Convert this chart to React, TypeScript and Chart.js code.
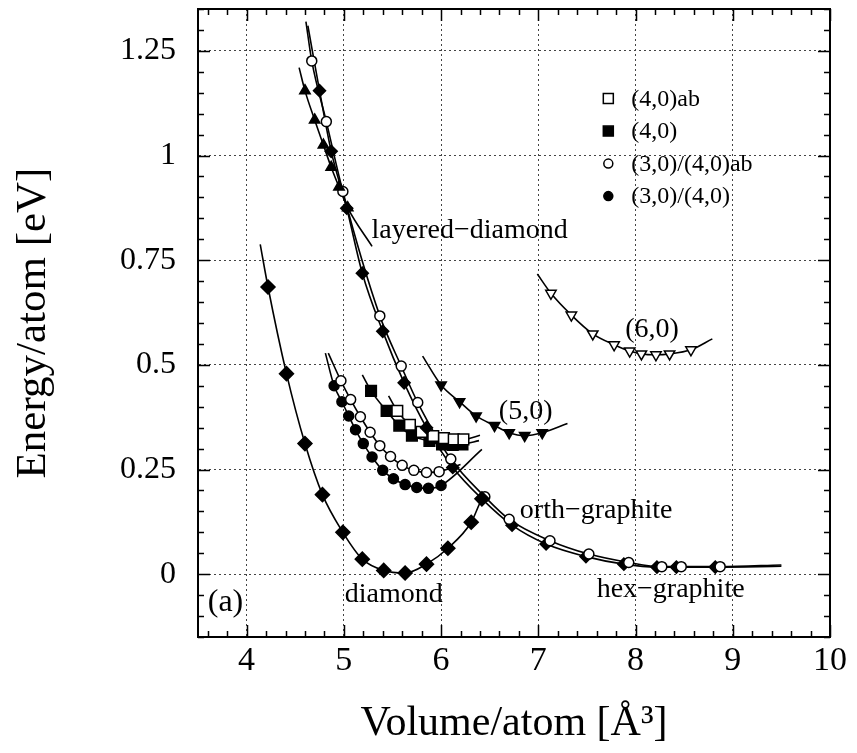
import React, { useEffect, useRef } from 'react';
import { Chart, registerables } from 'chart.js';
Chart.register(...registerables);

const FONT = '"Liberation Serif", "Times New Roman", serif';

// Axes
const X_MIN = 3.5, X_MAX = 10, Y_MIN = -0.15, Y_MAX = 1.35;
const xTicks = [4, 5, 6, 7, 8, 9, 10];
const yTicks = [0, 0.25, 0.5, 0.75, 1, 1.25];

// diamond (filled diamonds)
const diamondX = [4.22, 4.41, 4.60, 4.78, 4.99, 5.19, 5.41, 5.63, 5.85, 6.07, 6.31, 6.42];
const diamondY = [0.686, 0.479, 0.312, 0.190, 0.100, 0.036, 0.009, 0.003, 0.024, 0.062, 0.124, 0.180];
const diamondStart = [4.14, 0.788];
const diamondEnd = [6.47, 0.195];

// layered-diamond (filled up triangles)
const layeredX = [4.60, 4.70, 4.79, 4.87, 4.95, 5.04];
const layeredY = [1.155, 1.085, 1.025, 0.972, 0.925, 0.875];
const layeredStart = [4.54, 1.21];
const layeredEnd = [5.29, 0.783];

// graphite branch, open circles
const graphOpenX = [4.67, 4.82, 4.99, 5.37, 5.59, 5.76, 6.10, 6.45, 6.70, 7.12, 7.52, 7.93, 8.27, 8.47, 8.87];
const graphOpenY = [1.226, 1.081, 0.914, 0.617, 0.497, 0.410, 0.275, 0.185, 0.131, 0.080, 0.048, 0.028, 0.018, 0.018, 0.018];
const graphOpenStart = [4.61, 1.32];
const graphOpenEnd = [9.5, 0.022];

// graphite branch, filled
const graphFillX = [4.75, 4.87, 5.03, 5.19, 5.40, 5.62, 5.85, 6.12, 6.42, 6.73, 7.08, 7.49, 7.88, 8.22, 8.42, 8.82];
const graphFillY = [1.155, 1.010, 0.874, 0.719, 0.580, 0.457, 0.350, 0.255, 0.180, 0.117, 0.072, 0.042, 0.024, 0.017, 0.017, 0.017];
const graphFillStart = [4.63, 1.31];
const graphFillEnd = [9.5, 0.019];

// (4,0)ab open squares
const sqOpenX = [5.55, 5.68, 5.80, 5.92, 6.03, 6.13, 6.23];
const sqOpenY = [0.390, 0.357, 0.340, 0.330, 0.325, 0.322, 0.322];
const sqOpenStart = [5.46, 0.426];
const sqOpenEnd = [6.40, 0.332];

// (4,0) filled squares
const sqFillX = [5.28, 5.44, 5.57, 5.70, 5.88, 6.01, 6.12, 6.22];
const sqFillY = [0.438, 0.390, 0.355, 0.331, 0.318, 0.310, 0.309, 0.310];
const sqFillStart = [5.19, 0.476];
const sqFillEnd = [6.39, 0.319];

// (3,0)/(4,0)ab open circles
const ciOpenX = [4.97, 5.07, 5.17, 5.27, 5.37, 5.48, 5.60, 5.72, 5.85, 5.98];
const ciOpenY = [0.462, 0.417, 0.376, 0.339, 0.307, 0.281, 0.260, 0.248, 0.243, 0.245];
const ciOpenStart = [4.84, 0.528];
const ciOpenEnd = [6.20, 0.262];

// (3,0)/(4,0) filled circles
const ciFillX = [4.90, 4.98, 5.05, 5.12, 5.20, 5.29, 5.40, 5.51, 5.63, 5.75, 5.87, 6.00];
const ciFillY = [0.450, 0.412, 0.378, 0.345, 0.312, 0.280, 0.248, 0.228, 0.214, 0.207, 0.205, 0.212];
const ciFillStart = [4.81, 0.528];
const ciFillEnd = [6.42, 0.298];

// (5,0) filled down triangles
const t5X = [6.00, 6.19, 6.36, 6.55, 6.70, 6.86, 7.04];
const t5Y = [0.452, 0.412, 0.378, 0.355, 0.338, 0.331, 0.338];
const t5Start = [5.81, 0.521];
const t5End = [7.30, 0.360];

// (6,0) open down triangles
const t6X = [7.13, 7.34, 7.56, 7.78, 7.94, 8.06, 8.21, 8.35, 8.57];
const t6Y = [0.671, 0.619, 0.574, 0.548, 0.533, 0.526, 0.524, 0.526, 0.536];
const t6Start = [6.99, 0.717];
const t6End = [8.79, 0.562];

// Text labels (data coordinates of anchor)
const labelTexts = ['layered−diamond', '(6,0)', '(5,0)', 'orth−graphite', 'hex−graphite', 'diamond', '(a)'];
const labelX = [5.285, 8.17, 6.87, 6.81, 7.60, 5.01, 3.60];
const labelY = [0.821, 0.583, 0.388, 0.152, -0.038, -0.05, -0.069];
const labelAlign = ['left', 'center', 'center', 'left', 'left', 'left', 'left'];

const legendLabels = ['(4,0)ab', '(4,0)', '(3,0)/(4,0)ab', '(3,0)/(4,0)'];

const zip = (xs: number[], ys: number[]) => xs.map((x, i) => ({ x, y: ys[i] }));
const fit = (s: number[], xs: number[], ys: number[], e: number[]) => [
  { x: s[0], y: s[1] }, ...zip(xs, ys), { x: e[0], y: e[1] },
];

function lineDs(data: any[]) {
  return {
    label: '', data, showLine: true, pointRadius: 0, pointHoverRadius: 0,
    borderColor: '#000', borderWidth: 1.6, cubicInterpolationMode: 'monotone',
    fill: false, order: 2,
  };
}
function markerDs(label: string, data: any[], style: string, radius: number, filled: boolean, rotation = 0) {
  return {
    label, data, showLine: false, pointStyle: style, pointRadius: radius, pointHoverRadius: radius,
    pointRotation: rotation, pointBackgroundColor: filled ? '#000' : '#fff',
    pointBorderColor: '#000', pointBorderWidth: 1.5, order: 1,
  };
}

const overlay = {
  id: 'overlay',
  afterDraw(chart: any) {
    const { ctx, chartArea: a, scales } = chart;
    const xs = scales.x, ys = scales.y;
    ctx.save();
    ctx.strokeStyle = '#000';
    ctx.lineWidth = 1.5;
    ctx.beginPath();
    for (let k = Math.ceil(X_MIN / 0.2); k <= Math.floor(X_MAX / 0.2 + 1e-9); k++) {
      const v = k * 0.2;
      const major = Math.abs(v - Math.round(v)) < 1e-6;
      const len = major ? 12 : 6;
      const px = Math.round(xs.getPixelForValue(v)) + 0.5;
      ctx.moveTo(px, a.bottom); ctx.lineTo(px, a.bottom - len);
      ctx.moveTo(px, a.top); ctx.lineTo(px, a.top + len);
    }
    for (let k = Math.ceil(Y_MIN / 0.05 - 1e-9); k <= Math.floor(Y_MAX / 0.05 + 1e-9); k++) {
      const v = k * 0.05;
      const major = k % 5 === 0;
      const len = major ? 12 : 6;
      const py = Math.round(ys.getPixelForValue(v)) + 0.5;
      ctx.moveTo(a.left, py); ctx.lineTo(a.left + len, py);
      ctx.moveTo(a.right, py); ctx.lineTo(a.right - len, py);
    }
    ctx.stroke();

    // annotations
    ctx.fillStyle = '#000';
    ctx.textBaseline = 'middle';
    labelTexts.forEach((t, i) => {
      ctx.font = (t === '(a)' ? '32px ' : '28px ') + FONT;
      ctx.textAlign = labelAlign[i];
      ctx.fillText(t, xs.getPixelForValue(labelX[i]), ys.getPixelForValue(labelY[i]));
    });

    // legend
    const lx = xs.getPixelForValue(7.72);
    const ly0 = ys.getPixelForValue(1.136);
    ctx.font = '24px ' + FONT;
    ctx.textAlign = 'left';
    legendLabels.forEach((t, i) => {
      const y = ly0 + i * 32.5;
      ctx.lineWidth = 1.5;
      ctx.beginPath();
      if (i < 2) ctx.rect(lx - 5, y - 5, 10, 10);
      else ctx.arc(lx, y, 4.5, 0, Math.PI * 2);
      if (i % 2 === 1) { ctx.fillStyle = '#000'; ctx.fill(); }
      else { ctx.fillStyle = '#fff'; ctx.fill(); }
      ctx.stroke();
      ctx.fillStyle = '#000';
      ctx.fillText(t, lx + 23, y + 1);
    });
    ctx.restore();
  },
};

export default function App() {
  const ref = useRef<HTMLCanvasElement>(null);
  useEffect(() => {
    document.body.style.margin = '0';
    const datasets: any[] = [
      lineDs(fit(diamondStart, diamondX, diamondY, diamondEnd)),
      lineDs(fit(layeredStart, layeredX, layeredY, layeredEnd)),
      lineDs(fit(graphOpenStart, graphOpenX, graphOpenY, graphOpenEnd)),
      lineDs(fit(graphFillStart, graphFillX, graphFillY, graphFillEnd)),
      lineDs(fit(sqOpenStart, sqOpenX, sqOpenY, sqOpenEnd)),
      lineDs(fit(sqFillStart, sqFillX, sqFillY, sqFillEnd)),
      lineDs(fit(ciOpenStart, ciOpenX, ciOpenY, ciOpenEnd)),
      lineDs(fit(ciFillStart, ciFillX, ciFillY, ciFillEnd)),
      lineDs(fit(t5Start, t5X, t5Y, t5End)),
      lineDs(fit(t6Start, t6X, t6Y, t6End)),
      markerDs('diamond', zip(diamondX, diamondY), 'rectRot', 7, true),
      markerDs('layered-diamond', zip(layeredX, layeredY), 'triangle', 6, true),
      markerDs('graphite open', zip(graphOpenX, graphOpenY), 'circle', 5, false),
      markerDs('graphite filled', zip(graphFillX, graphFillY), 'rectRot', 6, true),
      markerDs('(4,0)ab', zip(sqOpenX, sqOpenY), 'rect', 7.5, false),
      markerDs('(4,0)', zip(sqFillX, sqFillY), 'rect', 7.5, true),
      markerDs('(3,0)/(4,0)ab', zip(ciOpenX, ciOpenY), 'circle', 5, false),
      markerDs('(3,0)/(4,0)', zip(ciFillX, ciFillY), 'circle', 5, true),
      markerDs('(5,0)', zip(t5X, t5Y), 'triangle', 6, true, 180),
      markerDs('(6,0)', zip(t6X, t6Y), 'triangle', 6, false, 180),
    ];
    const gridCommon = { color: '#444', lineWidth: 1, drawTicks: false };
    const borderCommon = { display: true, color: '#000', width: 2, dash: [2, 3] };
    const noPadV = (s: any) => { s.paddingTop = 0; s.paddingBottom = 0; };
    const noPadH = (s: any) => { s.paddingLeft = 0; s.paddingRight = 0; };
    const chart = new Chart(ref.current as HTMLCanvasElement, {
      type: 'scatter',
      data: { datasets },
      options: {
        animation: false,
        responsive: false,
        devicePixelRatio: 1,
        layout: { padding: 0 },
        plugins: { legend: { display: false }, tooltip: { enabled: false } },
        events: [],
        scales: {
          x: {
            type: 'linear', position: 'bottom', min: X_MIN, max: X_MAX,
            afterBuildTicks: (s: any) => { s.ticks = xTicks.map((v) => ({ value: v })); },
            afterFit: (s: any) => { s.height = 116; noPadH(s); },
            ticks: { color: '#000', font: { family: FONT, size: 34 }, padding: 4, maxRotation: 0, autoSkip: false, callback: (v: any) => String(v) },
            grid: gridCommon, border: borderCommon,
            title: { display: true, text: 'Volume/atom [Å³]', color: '#000', font: { family: FONT, size: 42 }, padding: { top: 0, bottom: 4 } },
          },
          y: {
            type: 'linear', position: 'left', min: Y_MIN, max: Y_MAX,
            afterBuildTicks: (s: any) => { s.ticks = yTicks.map((v) => ({ value: v })); },
            afterFit: (s: any) => { s.width = 198; noPadV(s); },
            ticks: { color: '#000', font: { family: FONT, size: 32 }, padding: 22, autoSkip: false, callback: (v: any) => String(v) },
            grid: gridCommon, border: borderCommon,
            title: { display: true, text: 'Energy/atom [eV]', color: '#000', font: { family: FONT, size: 43 }, padding: { top: 8, bottom: 0 } },
          },
          x2: {
            type: 'linear', position: 'top', min: X_MIN, max: X_MAX,
            afterFit: (s: any) => { s.height = 7; noPadH(s); },
            ticks: { display: false }, grid: { display: false, drawTicks: false },
            border: { display: true, color: '#000', width: 2 },
          },
          y2: {
            type: 'linear', position: 'right', min: Y_MIN, max: Y_MAX,
            afterFit: (s: any) => { s.width = 27; noPadV(s); },
            ticks: { display: false }, grid: { display: false, drawTicks: false },
            border: { display: true, color: '#000', width: 2 },
          },
        },
      } as any,
      plugins: [overlay],
    });
    return () => chart.destroy();
  }, []);
  return (
    <div style={{ width: 857, height: 753 }}>
      <canvas ref={ref} width={857} height={753} style={{ display: 'block' }} />
    </div>
  );
}
